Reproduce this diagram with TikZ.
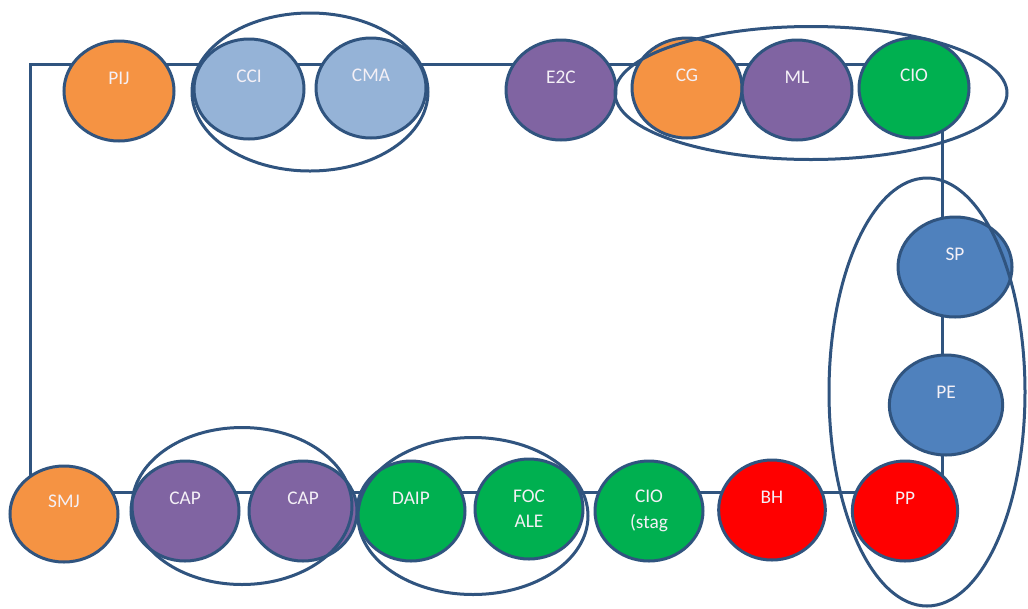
\documentclass[tikz,border=0pt]{standalone}
\usepackage{fontspec}
\setmainfont{Carlito}
\usetikzlibrary{shapes.geometric,backgrounds}
\definecolor{edgeblue}{HTML}{30547F}
\definecolor{cOrange}{HTML}{F59343}
\definecolor{cLight}{HTML}{95B3D7}
\definecolor{cPurple}{HTML}{8064A2}
\definecolor{cGreen}{HTML}{00B050}
\definecolor{cRed}{HTML}{FF0000}
\definecolor{cBlue}{HTML}{4F81BD}
\definecolor{txt}{HTML}{F4F0F6}
\newcommand\oneline[1]{#1\\\phantom{#1}}
\begin{document}
\begin{tikzpicture}[x=0.75pt,y=-0.75pt,
  disc/.style={ellipse, draw=edgeblue, line width=2.25pt, minimum width=82.5pt, minimum height=75pt, inner sep=0pt, text=txt, font=\fontsize{14.5}{19}\selectfont, align=center},
  conn/.style={draw=edgeblue, line width=2.25pt},
  grp/.style={ellipse, draw=edgeblue, line width=2.25pt, inner sep=0pt}]
\useasboundingbox (0,0) rectangle (1028,608);
% discs
\node[disc, fill=cOrange] (pij) at (119,91) {\oneline{PIJ}};
\node[disc, fill=cLight] (cci) at (249,89) {\oneline{CCI}};
\node[disc, fill=cLight] (cma) at (371,88) {\oneline{CMA}};
\node[disc, fill=cPurple] (e2c) at (561,90) {\oneline{E2C}};
\node[disc, fill=cOrange] (cg) at (687,88) {\oneline{CG}};
\node[disc, fill=cPurple] (ml) at (797,90) {\oneline{ML}};
\node[disc, fill=cGreen] (cio) at (914,88) {\oneline{CIO}};
\node[disc, fill=cBlue, minimum width=85.5pt] (sp) at (955,267) {\oneline{SP}};
\node[disc, fill=cBlue, minimum width=85pt] (pe) at (946,405) {\oneline{PE}};
\node[disc, fill=cRed, minimum width=79pt] (pp) at (905,511) {\oneline{PP}};
\node[disc, fill=cRed, minimum width=80pt] (bh) at (772,510) {\oneline{BH}};
\node[disc, fill=cGreen, minimum width=81pt] (cios) at (649,511) {CIO\\(stag};
\node[disc, fill=cGreen, minimum width=81pt] (foc) at (529,509) {FOC\\ALE};
\node[disc, fill=cGreen, minimum width=81pt] (daip) at (411,511) {\oneline{DAIP}};
\node[disc, fill=cPurple, minimum width=81pt] (capb) at (303,511) {\oneline{CAP}};
\node[disc, fill=cPurple, minimum width=81pt] (capa) at (185,511) {\oneline{CAP}};
\node[disc, fill=cOrange, minimum width=81pt, minimum height=72pt] (smj) at (64,514) {\oneline{SMJ}};
% corners of the loop
\coordinate (tl) at (30,64);
\coordinate (tr) at (942,64);
\coordinate (br) at (942,492);
% connectors behind the discs
\begin{scope}[on background layer]
\fill[white] (0,0) rectangle (1028,608);
\draw[conn] (smj -| tl) -- (tl) -- (pij |- tl) -- (cci |- tl) -- (cma |- tl) -- (e2c |- tl) -- (cg |- tl) -- (ml |- tl) -- (cio |- tl) -- (tr) -- (sp -| tr) -- (pe -| tr) -- (pp -| tr);
\draw[conn] (pp |- br) -- (bh |- br) -- (cios |- br) -- (foc |- br) -- (daip |- br) -- (capb |- br) -- (capa |- br) -- (smj |- br);
\end{scope}
% grouping ellipses
\node[grp, minimum width=177pt, minimum height=118.5pt] (g1) at (310,92) {};
\node[grp, minimum width=294pt, minimum height=99.75pt] (g2) at (811,93) {};
\node[grp, minimum width=147pt, minimum height=321pt] (g3) at (927,392) {};
\node[grp, minimum width=165pt, minimum height=117.75pt] (g4) at (242,506) {};
\node[grp, minimum width=172.5pt, minimum height=117.75pt] (g5) at (473,516) {};
\end{tikzpicture}
\end{document}
